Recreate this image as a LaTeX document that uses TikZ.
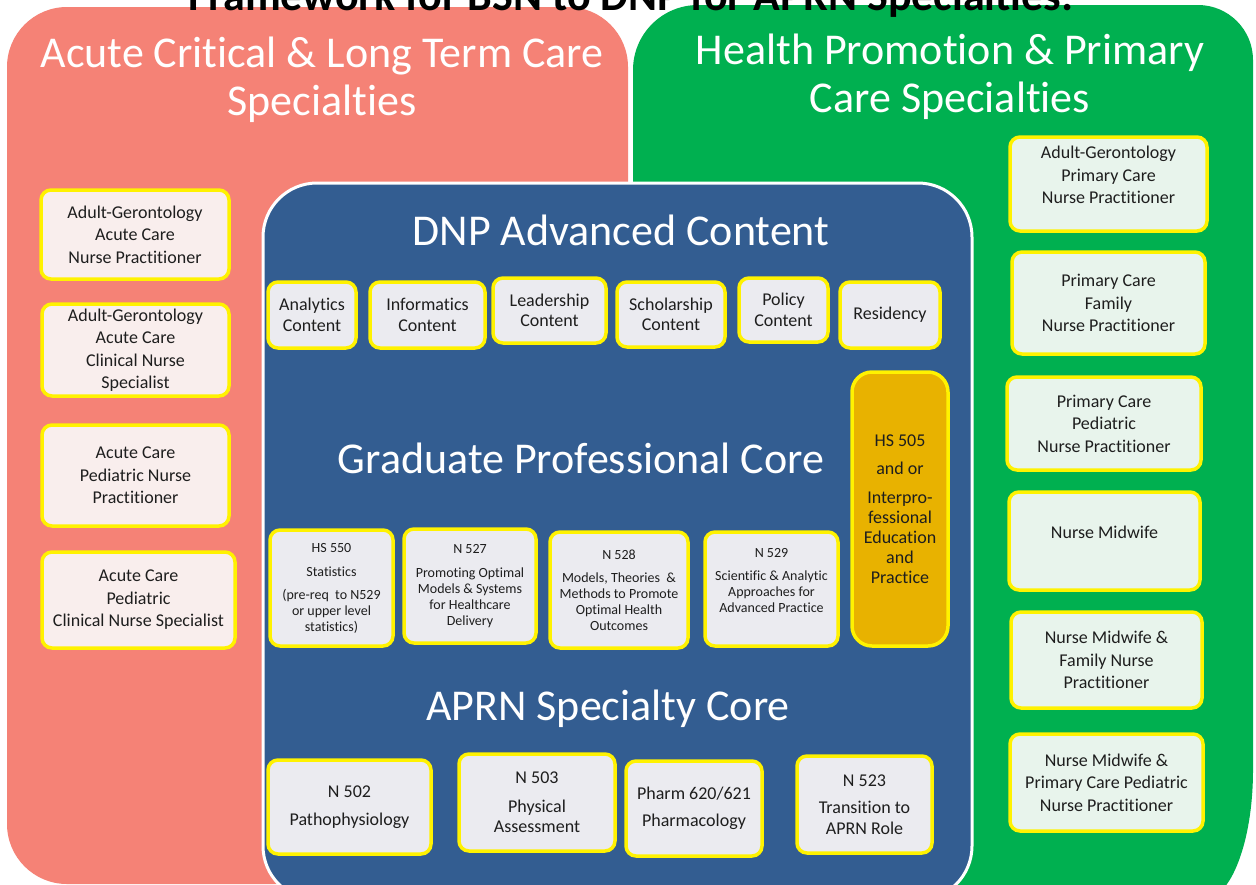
\documentclass[tikz,border=0pt]{standalone}
\usepackage{fontspec}
\setmainfont{Carlito}[Ligatures={NoCommon}]
\definecolor{salmon}{RGB}{245,130,118}
\definecolor{pgreen}{RGB}{0,176,80}
\definecolor{pblue}{RGB}{51,93,145}
\definecolor{pinkfill}{RGB}{249,238,237}
\definecolor{greenfill}{RGB}{232,244,236}
\definecolor{grayfill}{RGB}{235,235,240}
\definecolor{gold}{RGB}{232,178,0}
\definecolor{txt}{RGB}{30,30,30}
\tikzset{
  box/.style={draw=yellow, line width=3.5pt, rounded corners=10pt, align=center,
    inner sep=1pt, text=txt, font=\fontsize{18}{22.5}\selectfont},
  lbox/.style={box, fill=pinkfill},
  rbox/.style={box, fill=greenfill},
  tbox/.style={box, fill=grayfill, font=\fontsize{18}{20.5}\selectfont},
  mbox/.style={box, fill=grayfill, font=\fontsize{14}{16}\selectfont},
  bbox/.style={box, fill=grayfill, font=\fontsize{18}{20.5}\selectfont},
  gbox/.style={box, fill=gold, rounded corners=20pt, font=\fontsize{18}{20}\selectfont},
  hdr/.style={text=white, font=\fontsize{44}{48}\selectfont, anchor=base, inner sep=0pt},
}
\begin{document}
\begin{tikzpicture}[x=1pt,y=-1pt]
\useasboundingbox (0,0) rectangle (1256,884);
\clip (0,0) rectangle (1256,884);
\fill[white] (0,0) rectangle (1256,884);
% panels
\fill[salmon, rounded corners=60pt] (7,7) rectangle (628,884);
\fill[pgreen] (633,70) arc[start angle=180,end angle=270,radius=65] -- (1198,5)
  arc[start angle=-90,end angle=0,radius=55] -- (1253,770)
  arc[start angle=0,end angle=90,x radius=50,y radius=130] -- (633,900) -- cycle;
\filldraw[fill=pblue, draw=white, line width=3pt, rounded corners=54pt] (263,183) rectangle (972,900);
% headers
\node[hdr] (h1a) at (322,67) {Acute Critical \& Long Term Care};
\node[hdr] (h1b) at (322,115) {Specialties};
\node[hdr] (h2a) at (950,64) {Health Promotion \& Primary};
\node[hdr] (h2b) at (950,112) {Care Specialties};
\node[hdr] (h3) at (621,245) {DNP Advanced Content};
\node[hdr] (h4) at (581,473) {Graduate Professional Core};
\node[hdr] (h5) at (608,720) {APRN Specialty Core};
% left boxes
\node[lbox, minimum width=188, minimum height=89] (l1) at (135,234.5) {Adult-Gerontology\\Acute Care\\Nurse Practitioner};
\node[lbox, minimum width=187, minimum height=92] (l2) at (135.5,350) {Adult-Gerontology\\Acute Care\\Clinical Nurse\\Specialist};
\node[lbox, minimum width=187, minimum height=101] (l3) at (135.5,475.5) {Acute Care\\Pediatric Nurse\\Practitioner};
\node[lbox, minimum width=193, minimum height=96] (l4) at (138.5,600) {Acute Care\\Pediatric\\Clinical Nurse Specialist};
% right boxes
\node[rbox, minimum width=197, minimum height=94] (r1) at (1108.5,184) {Adult-Gerontology\\Primary Care\\Nurse Practitioner\\[-4pt]\mbox{}};
\node[rbox, minimum width=193, minimum height=102] (r2) at (1108.5,303) {Primary Care\\Family\\Nurse Practitioner};
\node[rbox, minimum width=194, minimum height=93] (r3) at (1104,423.5) {Primary Care\\Pediatric\\Nurse Practitioner};
\node[rbox, minimum width=191, minimum height=98] (r4) at (1104.5,541) {\raisebox{9pt}[\height][\depth]{Nurse Midwife}};
\node[rbox, minimum width=191, minimum height=96] (r5) at (1106.5,660) {Nurse Midwife \&\\Family Nurse\\Practitioner};
\node[rbox, minimum width=193, minimum height=97] (r6) at (1106.5,782.5) {Nurse Midwife \&\\Primary Care Pediatric\\Nurse Practitioner};
% DNP row
\node[tbox, minimum width=88, minimum height=66] (t1) at (312,315) {Analytics\\Content};
\node[tbox, minimum width=115, minimum height=66] (t2) at (427.5,315) {Informatics\\Content};
\node[tbox, minimum width=113, minimum height=65] (t3) at (549.5,310.5) {Leadership\\Content};
\node[tbox, minimum width=108, minimum height=65] (t4) at (671,314.5) {Scholarship\\Content};
\node[tbox, minimum width=89, minimum height=64] (t5) at (783.5,310) {Policy\\Content};
\node[tbox, minimum width=100, minimum height=66] (t6) at (890,315) {Residency};
% gold box
\node[gbox, minimum width=96, minimum height=274] (g) at (900,509) {HS 505\\[8pt]and or\\[9pt]Interpro-\\fessional\\Education\\and\\Practice};
% graduate core
\node[mbox, minimum width=123, minimum height=116] (m1) at (331.5,588) {HS 550\\[8pt]Statistics\\[7pt](pre-req\ \ to N529\\or upper level\\statistics)};
\node[mbox, minimum width=132, minimum height=114] (m2) at (470,586) {N 527\\[8pt]Promoting Optimal\\Models \& Systems\\for Healthcare\\Delivery};
\node[mbox, minimum width=138, minimum height=116] (m3) at (619,590) {N 528\\[7pt]Models, Theories\ \ \&\\Methods to Promote\\Optimal Health\\Outcomes};
\node[mbox, minimum width=133, minimum height=114] (m4) at (771.5,589) {N 529\\[7pt]Scientific \& Analytic\\Approaches for\\Advanced Practice\\[0.5pt]\mbox{}};
% APRN core
\node[bbox, minimum width=163, minimum height=94] (b1) at (349.5,807) {N 502\\[7pt]Pathophysiology};
\node[bbox, minimum width=156, minimum height=97] (b2) at (537,802.5) {N 503\\[8pt]Physical\\Assessment};
\node[bbox, minimum width=136, minimum height=95] (b3) at (694,808.5) {Pharm 620/621\\[6pt]Pharmacology};
\node[bbox, minimum width=135, minimum height=97] (b4) at (864.5,804.5) {N 523\\[7pt]Transition to\\APRN Role};
% title (cut off at top, as in the reference)
\node[font=\fontsize{44}{48}\selectfont\bfseries, anchor=base, inner sep=0pt] (title) at (631,10) {Framework for BSN to DNP for APRN Specialties:};
\end{tikzpicture}
\end{document}
